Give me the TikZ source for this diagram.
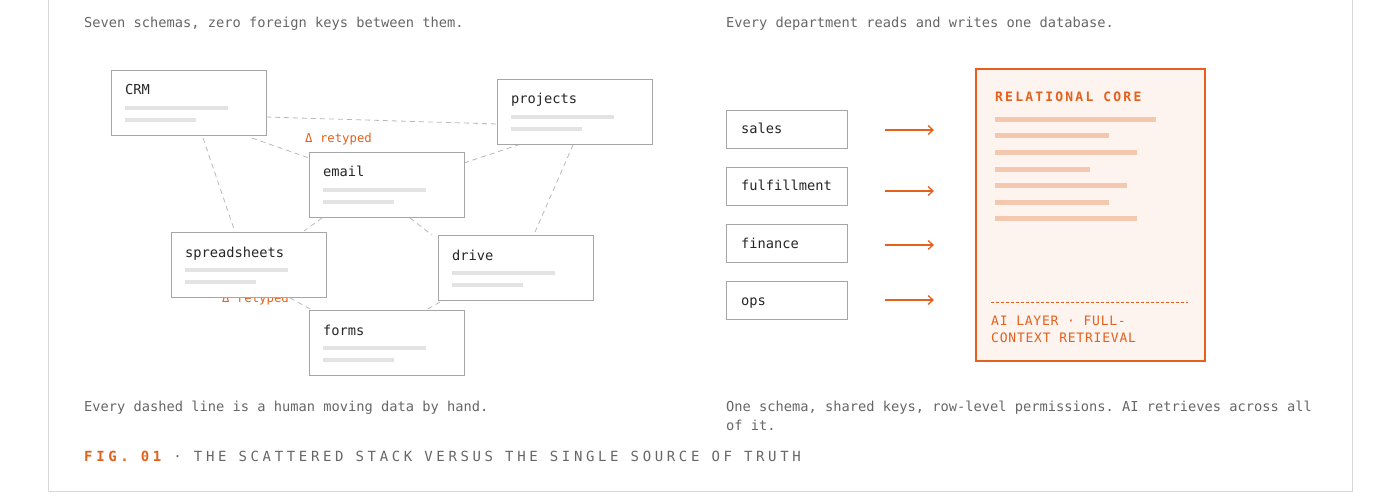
\documentclass[tikz,border=0pt]{standalone}
\usepackage{fontspec}
\setmonofont{DejaVu Sans Mono}
\usetikzlibrary{arrows.meta}
\definecolor{org}{HTML}{E4601C}
\definecolor{orgl}{HTML}{F4C7AF}
\definecolor{orgbg}{HTML}{FDF4EF}
\definecolor{txt}{HTML}{666666}
\definecolor{dark}{HTML}{262626}
\definecolor{bar}{HTML}{E3E3E3}
\definecolor{frm}{HTML}{D8D8D8}
\begin{document}
\begin{tikzpicture}[x=1pt,y=-1pt,
  body/.style={anchor=base west,font=\ttfamily\fontsize{13.7}{16}\selectfont,text=txt,inner sep=0},
  lab/.style={anchor=base west,font=\ttfamily\fontsize{13.7}{16}\selectfont,text=dark,inner sep=0},
  box/.style={draw=gray!70,fill=white,line width=0.9pt,minimum width=155,minimum height=65,anchor=north west,inner sep=0},
  dbox/.style={draw=gray!70,fill=white,line width=0.9pt,minimum width=121,minimum height=38,anchor=north west,inner sep=0},
  dsh/.style={draw=gray!55,dash pattern=on 5pt off 4pt,line width=0.8pt},
  gbar/.style={bar,line width=4pt},
  obar/.style={orgl,line width=5pt},
  arr/.style={org,line width=1.3pt,-{Straight Barb[length=5pt,width=9pt]}},
  ai/.style={anchor=base west,inner sep=0,font=\ttfamily\fontsize{13}{16}\selectfont\addfontfeature{LetterSpace=6},text=org},
  ret/.style={anchor=base west,font=\ttfamily\fontsize{12.3}{14}\selectfont,text=org,inner sep=0}]
\useasboundingbox (0,0) rectangle (1400,497);
\draw[frm,line width=0.9pt] (48,-2) -- (48,491) -- (1352,491) -- (1352,-2);
\node[body] (h1) at (84,28) {Seven schemas, zero foreign keys between them.};
\node[body] (h2) at (726,28) {Every department reads and writes one database.};
\node[body] (f1) at (84,411) {Every dashed line is a human moving data by hand.};
\node[body] (f2) at (726,411) {One schema, shared keys, row-level permissions. AI retrieves across all};
\node[body] (f3) at (726,430) {of it.};
\node[anchor=base west,inner sep=0,font=\ttfamily\fontsize{14}{16}\selectfont\addfontfeature{LetterSpace=26},text=txt] (cap) at (84,461) {\textcolor{org}{\bfseries FIG. 01} · THE SCATTERED STACK VERSUS THE SINGLE SOURCE OF TRUTH};
% dashed connectors
\coordinate (c1) at (266,117); \coordinate (c2) at (497,124);
\coordinate (c3) at (252,138); \coordinate (c4) at (309,158);
\coordinate (c5) at (203,138); \coordinate (c6) at (235,232);
\coordinate (c7) at (464,163); \coordinate (c8) at (518,145);
\coordinate (c9) at (573,145); \coordinate (c10) at (535,232);
\coordinate (c11) at (322,218); \coordinate (c12) at (304,231);
\coordinate (c13) at (410,218); \coordinate (c14) at (432,235);
\coordinate (c15) at (290,298); \coordinate (c16) at (312,310);
\coordinate (c17) at (440,302); \coordinate (c18) at (426,310);
\foreach \a/\b in {c1/c2,c3/c4,c5/c6,c7/c8,c9/c10,c11/c12,c13/c14,c15/c16,c17/c18} \draw[dsh] (\a) -- (\b);
\node[ret] (r1) at (305,143) {Δ retyped};
\node[ret] (r2) at (222,302) {Δ retyped};
% boxes
\foreach \n/\x/\y/\t in {crm/111/70/CRM,proj/497/79/projects,email/309/152/email,spr/171/232/spreadsheets,drive/438/235/drive,forms/309/310/forms}{
  \node[box] (\n) at (\x,\y) {};
  \node[lab] (\n l) at (\x+14,\y+25) {\t};
  \draw[gbar] (\x+14,\y+38) -- (\x+117,\y+38);
  \draw[gbar] (\x+14,\y+50) -- (\x+85,\y+50);
}
% departments
\foreach \n/\y/\t/\ay in {sales/110/sales/130,ful/167/fulfillment/191,fin/224/finance/245,ops/281/ops/300}{
  \node[dbox] (\n) at (726,\y) {};
  \node[lab] (\n l) at (741,\y+24) {\t};
  \coordinate (\n a) at (885,\ay); \coordinate (\n b) at (934,\ay);
  \draw[arr] (\n a) -- (\n b);
}
\node[draw=org,fill=orgbg,line width=1.8pt,minimum width=229,minimum height=292,anchor=north west,inner sep=0] (core) at (975,68) {};
\node[anchor=base west,inner sep=0,font=\ttfamily\bfseries\fontsize{13}{15}\selectfont\addfontfeature{LetterSpace=17},text=org] (ct) at (995,102) {RELATIONAL CORE};
\foreach \y/\l in {120/1156,136/1109,153/1137,170/1090,186/1127,203/1109,219/1137} \draw[obar] (995,\y) -- (\l,\y);
\draw[org,dash pattern=on 3pt off 2pt,line width=0.8pt] (991,302) -- (1188,302);
\node[ai] (ai1) at (991,325) {AI LAYER · FULL-};
\node[ai] (ai2) at (991,342) {CONTEXT RETRIEVAL};
\end{tikzpicture}
\end{document}
